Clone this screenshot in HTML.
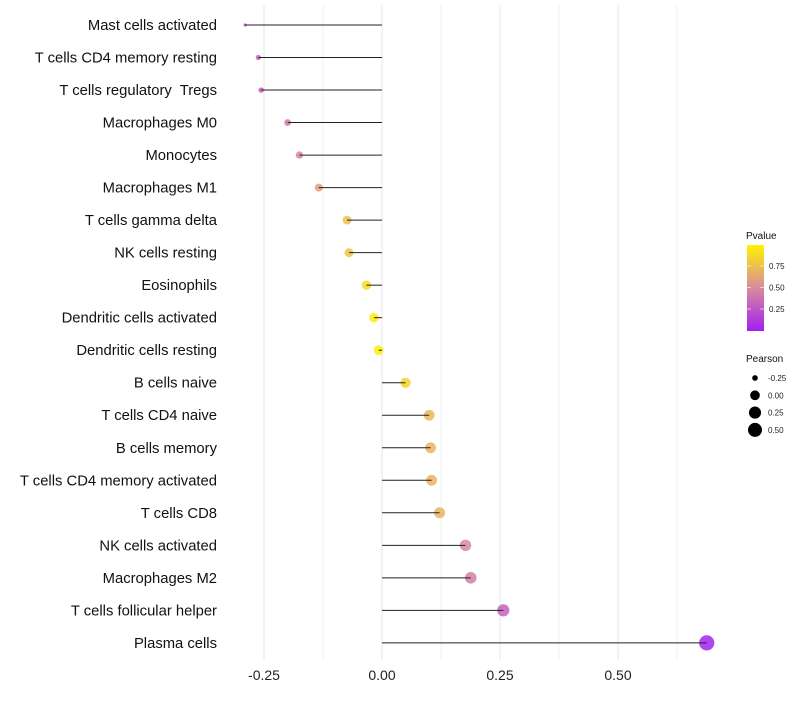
<!DOCTYPE html>
<html><head><meta charset="utf-8"><style>
body{margin:0;background:#fff;font-family:"Liberation Sans",Arial,sans-serif}
text{white-space:pre}
</style></head><body>
<svg id="chart" width="800" height="700" xmlns="http://www.w3.org/2000/svg"></svg>
<script>
const categories=["Mast cells activated","T cells CD4 memory resting","T cells regulatory  Tregs","Macrophages M0","Monocytes","Macrophages M1","T cells gamma delta","NK cells resting","Eosinophils","Dendritic cells activated","Dendritic cells resting","B cells naive","T cells CD4 naive","B cells memory","T cells CD4 memory activated","T cells CD8","NK cells activated","Macrophages M2","T cells follicular helper","Plasma cells"];
const pearson=[-0.29,-0.262,-0.256,-0.2,-0.175,-0.134,-0.074,-0.07,-0.033,-0.017,-0.007,0.05,0.1,0.103,0.105,0.122,0.177,0.188,0.257,0.688];
const pvalues=[0.22,0.3,0.28,0.42,0.48,0.6,0.75,0.78,0.9,0.97,0.98,0.85,0.72,0.7,0.7,0.7,0.5,0.45,0.3,0.02];
const xTicks=[-0.25,0,0.25,0.5];
const xTickLabels=["-0.25","0.00","0.25","0.50"];
const xMinor=[-0.125,0.125,0.375,0.625];
const sizeLegend=[-0.25,0,0.25,0.5];
const sizeLegendLabels=["-0.25","0.00","0.25","0.50"];
const pLegendTicks=[0.25,0.5,0.75];
const pLegendLabels=["0.25","0.50","0.75"];

const NS="http://www.w3.org/2000/svg";
const svg=document.getElementById('chart');
const x=v=>382+v*472;
const y=i=>25+i*32.52;
const pmin=Math.min(...pearson),pmax=Math.max(...pearson);
const r=v=>1.6+6*Math.sqrt(Math.max(0,(v-pmin)/(pmax-pmin)));
function hex(h){return [1,3,5].map(k=>parseInt(h.substr(k,2),16));}
const stops=[[0,hex("#a31ff2")],[0.5,hex("#d98a9e")],[1,hex("#fff200")]];
function col(p){p=Math.max(0,Math.min(1,p));let a=stops[0],b=stops[1];if(p>0.5){a=stops[1];b=stops[2];}
const t=(p-a[0])/(b[0]-a[0]);const c=a[1].map((v,k)=>Math.round(v+(b[1][k]-v)*t));return `rgb(${c.join(',')})`;}
function el(tag,attrs,parent){const e=document.createElementNS(NS,tag);for(const k in attrs)e.setAttribute(k,attrs[k]);(parent||svg).appendChild(e);return e;}

xMinor.forEach(v=>{const g=el('line',{x1:x(v),x2:x(v),y1:5,y2:660,stroke:'#f2f2f2','stroke-width':1});

});
xTicks.forEach((v,i)=>{const g=el('line',{x1:x(v),x2:x(v),y1:5,y2:660,stroke:'#ebebeb','stroke-width':1.2});


const t=el('text',{x:x(v),y:680,'text-anchor':'middle','font-size':14,fill:'#222'});t.textContent=xTickLabels[i];

});

categories.forEach((c,i)=>{
const t=el('text',{x:217,y:y(i)+5,'text-anchor':'end','font-size':14.8,fill:'#111'});t.textContent=c;


const d=el('circle',{cx:x(pearson[i]),cy:y(i),r:r(pearson[i]),fill:col(pvalues[i]),'fill-opacity':0.85});


const l=el('line',{x1:x(0),x2:x(pearson[i]),y1:y(i),y2:y(i),stroke:'#222','stroke-width':1});


});

const lt=el('text',{x:746,y:239,'font-size':10,fill:'#111'});lt.textContent='Pvalue';


const defs=el('defs',{});const gr=el('linearGradient',{id:'pg',x1:0,y1:1,x2:0,y2:0},defs);
[0,0.25,0.5,0.75,1].forEach(p=>el('stop',{offset:p,'stop-color':col(p)},gr));
const cb=el('rect',{x:747,y:245,width:17,height:86,fill:'url(#pg)'});


pLegendTicks.forEach((p,i)=>{const yy=330.5-p*86;
el('line',{x1:747,x2:751,y1:yy,y2:yy,stroke:'#fff','stroke-width':0.6});el('line',{x1:760,x2:764,y1:yy,y2:yy,stroke:'#fff','stroke-width':0.6});
const t=el('text',{x:769,y:yy+3,'font-size':8,fill:'#222'});t.textContent=pLegendLabels[i];

});
const st=el('text',{x:746,y:362,'font-size':10,fill:'#111'});st.textContent='Pearson';


sizeLegend.forEach((v,i)=>{const yy=378+i*17.3;
const c=el('circle',{cx:755,cy:yy,r:r(v),fill:'#000'});


const t=el('text',{x:768,y:yy+3,'font-size':8,fill:'#222'});t.textContent=sizeLegendLabels[i];

});
</script>
</body></html>
